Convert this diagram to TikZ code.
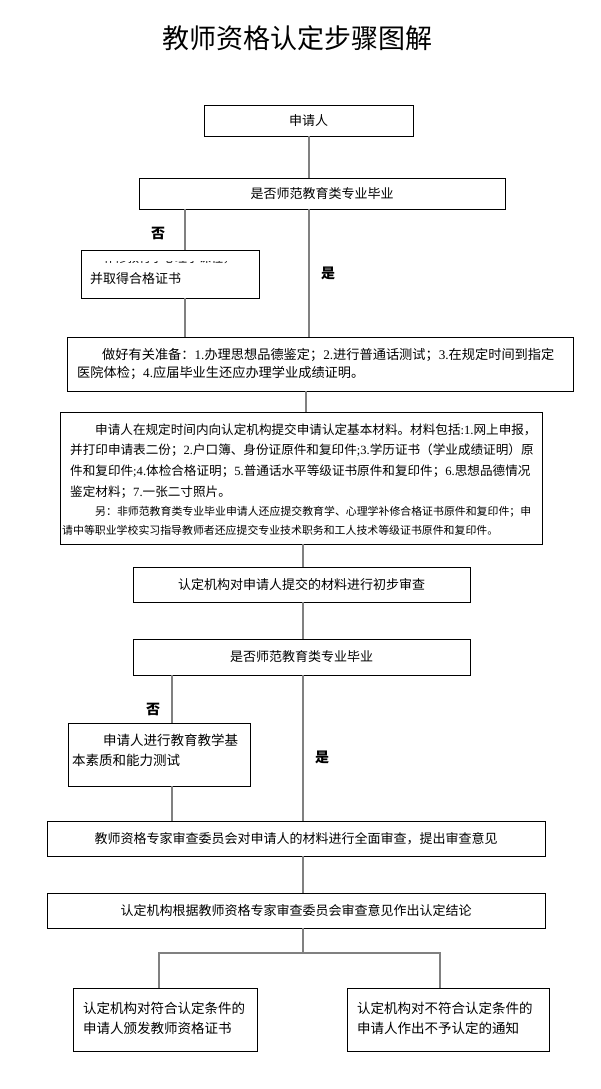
\documentclass[tikz,border=0pt]{standalone}
\usepackage{fontspec}
\setmainfont{Liberation Serif}
\newfontfamily\cjk{Noto Sans CJK SC}
\newcommand\dg[1]{{\rmfamily #1}}
\definecolor{connc}{RGB}{128,128,128}
\tikzset{
  box/.style={draw=black, line width=0.8pt, inner sep=0pt, rectangle,
    font=\cjk\fontsize{13}{20}\selectfont},
  conn/.style={draw=connc, line width=1.1pt},
  txt/.style={inner sep=0pt, align=left, anchor=west,
    font=\cjk\fontsize{13}{20}\selectfont},
  bigtxt/.style={txt, font=\cjk\fontsize{13.5}{20}\selectfont},
  yn/.style={inner sep=0pt, font=\cjk\bfseries\fontsize{14}{14}\selectfont}
}
\begin{document}
\begin{tikzpicture}[x=1pt,y=-1pt]
\useasboundingbox[fill=white] (0,0) rectangle (600,1089);
% title
\node[inner sep=0pt, font=\cjk\fontsize{27}{27}\selectfont] (title) at (297,38) {教师资格认定步骤图解};
% boxes
\node[box, minimum width=209, minimum height=31] (b1) at (308.5,120.5) {申请人};
\node[box, minimum width=366, minimum height=31] (b2) at (322,193.5) {是否师范教育类专业毕业};
\node[box, minimum width=178, minimum height=48] (b3) at (170,274) {};
\node[box, minimum width=506, minimum height=54] (b4) at (320,364) {};
\node[box, minimum width=482, minimum height=132] (b5) at (301,478) {};
\node[box, minimum width=337, minimum height=35] (b6) at (301.5,584.5) {认定机构对申请人提交的材料进行初步审查};
\node[box, minimum width=337, minimum height=36] (b7) at (301.5,657) {是否师范教育类专业毕业};
\node[box, minimum width=182, minimum height=63] (b8) at (159,754.5) {};
\node[box, minimum width=498, minimum height=35] (b9) at (296,838.5) {教师资格专家审查委员会对申请人的材料进行全面审查，提出审查意见};
\node[box, minimum width=498, minimum height=35] (b10) at (296,910.5) {认定机构根据教师资格专家审查委员会审查意见作出认定结论};
\node[box, minimum width=184, minimum height=63] (b11) at (165,1019.5) {};
\node[box, minimum width=202, minimum height=63] (b12) at (448,1019.5) {};
% box texts
\begin{scope}
\clip (81,261) rectangle (259,298);
\node[txt, font=\cjk\fontsize{12}{12}\selectfont] (t3a) at (103,258) {补修教育学心理学课程，};
\end{scope}
\node[txt] (t3b) at (90,279) {并取得合格证书};
\node[txt, font=\cjk\fontsize{13.2}{18}\selectfont] (t4) at (77,364) {\hspace*{25pt}做好有关准备：\dg{1.}办理思想品德鉴定；\dg{2.}进行普通话测试；\dg{3.}在规定时间到指定\\医院体检；\dg{4.}应届毕业生还应办理学业成绩证明。};
\node[txt, font=\cjk\fontsize{12.6}{20.7}\selectfont] (t5a) at (70,461) {\hspace*{25pt}申请人在规定时间内向认定机构提交申请认定基本材料。材料包括\dg{:1.}网上申报，\\并打印申请表二份；\dg{2.}户口簿、身份证原件和复印件\dg{;3.}学历证书（学业成绩证明）原\\件和复印件\dg{;4.}体检合格证明；\dg{5.}普通话水平等级证书原件和复印件；\dg{6.}思想品德情况\\鉴定材料；\dg{7.}一张二寸照片。};
\node[txt, font=\cjk\fontsize{10.9}{18.5}\selectfont] (t5b) at (62,521) {\hspace*{33pt}另：非师范教育类专业毕业申请人还应提交教育学、心理学补修合格证书原件和复印件；申\\请中等职业学校实习指导教师者还应提交专业技术职务和工人技术等级证书原件和复印件。};
\node[bigtxt] (t8) at (72,750) {\hspace*{31pt}申请人进行教育教学基\\本素质和能力测试};
\node[bigtxt] (t11) at (83,1018) {认定机构对符合认定条件的\\申请人颁发教师资格证书};
\node[bigtxt] (t12) at (357,1018) {认定机构对不符合认定条件的\\申请人作出不予认定的通知};
% connector columns
\coordinate (cA) at (309,0);
\coordinate (cB) at (185,0);
\coordinate (cC) at (306,0);
\coordinate (cD) at (303,0);
\coordinate (cE) at (172,0);
\coordinate (cF) at (159,0);
\coordinate (cG) at (440,0);
\coordinate (j) at (303,953);
% connectors
\draw[conn] (b1.south -| cA) -- (b2.north -| cA);
\draw[conn] (b2.south -| cB) -- (b3.north -| cB);
\draw[conn] (b2.south -| cA) -- (b4.north -| cA);
\draw[conn] (b3.south -| cB) -- (b4.north -| cB);
\draw[conn] (b4.south -| cC) -- (b5.north -| cC);
\draw[conn] (b5.south -| cD) -- (b6.north -| cD);
\draw[conn] (b6.south -| cD) -- (b7.north -| cD);
\draw[conn] (b7.south -| cE) -- (b8.north -| cE);
\draw[conn] (b7.south -| cD) -- (b9.north -| cD);
\draw[conn] (b8.south -| cE) -- (b9.north -| cE);
\draw[conn] (b9.south -| cD) -- (b10.north -| cD);
\draw[conn] (b10.south -| j) -- (j);
\draw[conn] (b11.north -| cF) -- (cF |- j) -- (cG |- j) -- (b12.north -| cG);
% labels
\node[yn] (n1) at (158,233) {否};
\node[yn] (y1) at (328,273) {是};
\node[yn] (n2) at (153,709) {否};
\node[yn] (y2) at (322,757) {是};
\end{tikzpicture}
\end{document}
